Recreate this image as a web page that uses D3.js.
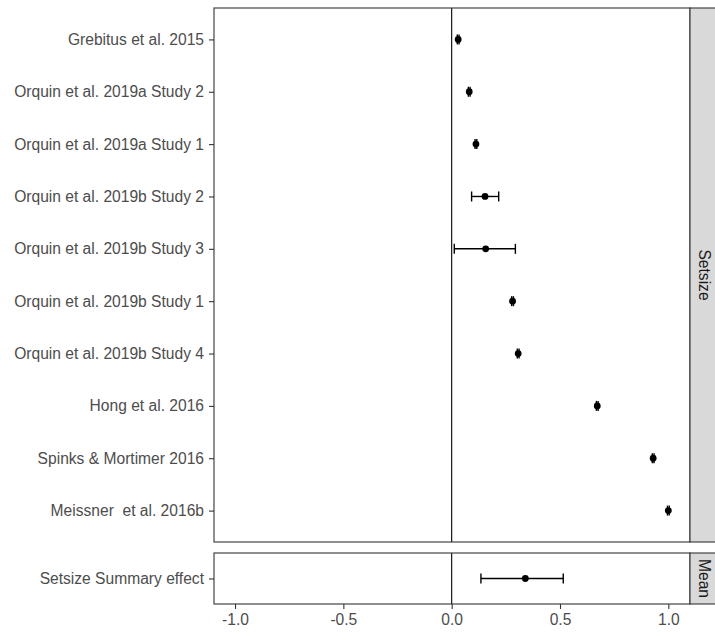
<!DOCTYPE html>
<html>
<head>
<meta charset="utf-8">
<script src="https://cdn.jsdelivr.net/npm/d3@7/dist/d3.min.js"></script>
<style>
  html, body { margin: 0; padding: 0; background: #fff; }
  svg { display: block; }
  text { font-family: "Liberation Sans", Arial, sans-serif; white-space: pre; }
</style>
</head>
<body>
<svg id="chart" width="715" height="635"></svg>
<script>
// Studies, top to bottom, with effect estimate and confidence limits
const studies = [
  "Grebitus et al. 2015",
  "Orquin et al. 2019a Study 2",
  "Orquin et al. 2019a Study 1",
  "Orquin et al. 2019b Study 2",
  "Orquin et al. 2019b Study 3",
  "Orquin et al. 2019b Study 1",
  "Orquin et al. 2019b Study 4",
  "Hong et al. 2016",
  "Spinks & Mortimer 2016",
  "Meissner  et al. 2016b"
];
const estimates = [0.030, 0.081, 0.112, 0.154, 0.157, 0.281, 0.307, 0.672, 0.930, 1.000];
const lower     = [0.026, 0.077, 0.108, 0.092, 0.012, 0.277, 0.303, 0.668, 0.926, 0.996];
const upper     = [0.034, 0.085, 0.116, 0.217, 0.294, 0.285, 0.311, 0.676, 0.934, 1.004];

const summaryLabel = ["Setsize Summary effect"];
const summaryEst = [0.340];
const summaryLo  = [0.135];
const summaryHi  = [0.515];

const xTicks = [-1.0, -0.5, 0.0, 0.5, 1.0];
const stripTop = "Setsize";
const stripBottom = "Mean";

const svg = d3.select("#chart");

const panelLeft = 214, panelRight = 690, stripRight = 716;
const topPanel = {y0: 8, y1: 542};
const botPanel = {y0: 553, y1: 604};

const x = d3.scaleLinear().domain([-1.097, 1.1]).range([panelLeft, panelRight]);

const yTop = d3.scalePoint().domain(studies).range([topPanel.y0, topPanel.y1]).padding(0.6);
const yBot = d3.scalePoint().domain(summaryLabel).range([botPanel.y0, botPanel.y1]).padding(0.6);

const labelColor = "#4d4d4d";
const borderColor = "#333333";
const fontSize = 15.6;

function drawPanel(p, yScale, labels, est, lo, hi, stripText) {
  const g = svg.append("g");
  g.append("rect")
    .attr("x", panelLeft).attr("y", p.y0)
    .attr("width", panelRight - panelLeft).attr("height", p.y1 - p.y0)
    .attr("fill", "#fff");

  // reference line at zero
  g.append("line")
    .attr("x1", x(0)).attr("x2", x(0))
    .attr("y1", p.y0).attr("y2", p.y1)
    .attr("stroke", "#000").attr("stroke-width", 1.1);

  // error bars
  const capH = 10;
  const bars = g.selectAll("g.bar").data(labels).enter().append("g").attr("class", "bar");
  bars.append("line")
    .attr("x1", (d, i) => x(lo[i])).attr("x2", (d, i) => x(hi[i]))
    .attr("y1", d => yScale(d)).attr("y2", d => yScale(d))
    .attr("stroke", "#000").attr("stroke-width", 1.4);
  bars.append("line")
    .attr("x1", (d, i) => x(lo[i])).attr("x2", (d, i) => x(lo[i]))
    .attr("y1", d => yScale(d) - capH / 2).attr("y2", d => yScale(d) + capH / 2)
    .attr("stroke", "#000").attr("stroke-width", 1.4);
  bars.append("line")
    .attr("x1", (d, i) => x(hi[i])).attr("x2", (d, i) => x(hi[i]))
    .attr("y1", d => yScale(d) - capH / 2).attr("y2", d => yScale(d) + capH / 2)
    .attr("stroke", "#000").attr("stroke-width", 1.4);
  bars.append("circle")
    .attr("cx", (d, i) => x(est[i])).attr("cy", d => yScale(d))
    .attr("r", 3.4).attr("fill", "#000");

  // panel border
  g.append("rect")
    .attr("x", panelLeft).attr("y", p.y0)
    .attr("width", panelRight - panelLeft).attr("height", p.y1 - p.y0)
    .attr("fill", "none").attr("stroke", borderColor).attr("stroke-width", 1.1);

  // facet strip
  g.append("rect")
    .attr("x", panelRight).attr("y", p.y0)
    .attr("width", stripRight - panelRight).attr("height", p.y1 - p.y0)
    .attr("fill", "#d9d9d9").attr("stroke", borderColor).attr("stroke-width", 1.1);
  const cx = (panelRight + stripRight) / 2 + 1, cy = (p.y0 + p.y1) / 2;
  g.append("text")
    .attr("transform", `translate(${cx},${cy}) rotate(90)`)
    .attr("text-anchor", "middle").attr("dy", "0.35em")
    .attr("font-size", fontSize).attr("fill", "#1a1a1a")
    .text(stripText);

  // y axis
  const yAxis = d3.axisLeft(yScale).tickSize(5).tickPadding(5);
  const ag = g.append("g").attr("transform", `translate(${panelLeft},0)`).call(yAxis);
  ag.select(".domain").remove();
  ag.selectAll(".tick line").attr("stroke", borderColor).attr("stroke-width", 1.1);
  ag.selectAll(".tick text").attr("fill", labelColor).attr("font-size", fontSize)
    .attr("font-family", "'Liberation Sans', Arial, sans-serif");
}

drawPanel(topPanel, yTop, studies, estimates, lower, upper, stripTop);
drawPanel(botPanel, yBot, summaryLabel, summaryEst, summaryLo, summaryHi, stripBottom);

// x axis under the summary panel
const fmt = d3.format(".1f");
const xAxis = d3.axisBottom(x).tickValues(xTicks)
  .tickFormat(d => fmt(d).replace("\u2212", "-"))
  .tickSize(5).tickPadding(5);
const xg = svg.append("g").attr("transform", `translate(0,${botPanel.y1})`).call(xAxis);
xg.select(".domain").remove();
xg.selectAll(".tick line").attr("stroke", borderColor).attr("stroke-width", 1.1);
xg.selectAll(".tick text").attr("fill", labelColor).attr("font-size", fontSize)
  .attr("font-family", "'Liberation Sans', Arial, sans-serif");
</script>
</body>
</html>
